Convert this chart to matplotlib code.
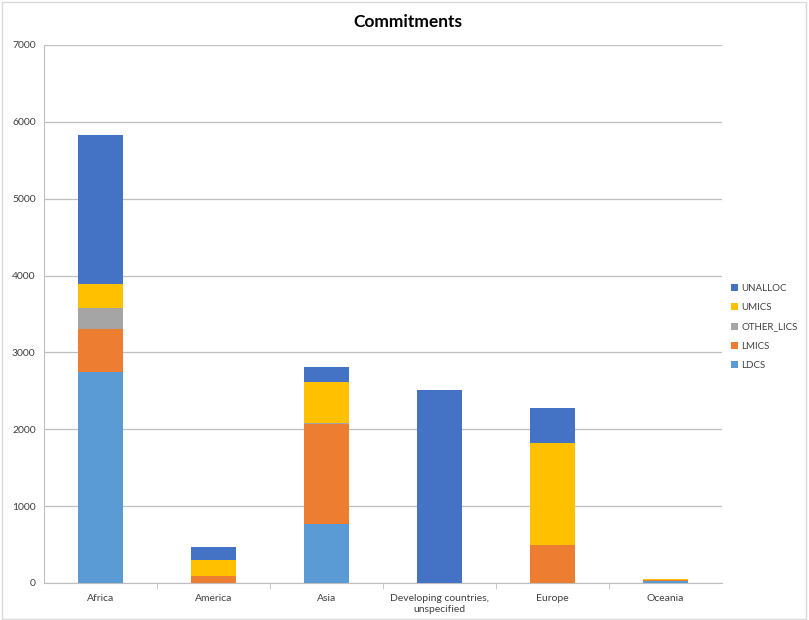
import numpy as np
import matplotlib
matplotlib.use("Agg")
import matplotlib.pyplot as plt

plt.rcParams['font.family'] = ['Lato', 'DejaVu Sans']

# Data
regions = ["Africa", "America", "Asia", "Developing countries,\nunspecified", "Europe", "Oceania"]
ldcs = [2740, 5, 770, 0, 0, 20]
lmics = [560, 90, 1300, 0, 500, 15]
other_lics = [280, 0, 10, 0, 0, 0]
umics = [315, 205, 530, 0, 1320, 20]
unalloc = [1935, 165, 200, 2510, 460, 0]

series = [("LDCS", ldcs, "#5b9bd5"),
          ("LMICS", lmics, "#ed7d31"),
          ("OTHER_LICS", other_lics, "#a5a5a5"),
          ("UMICS", umics, "#ffc000"),
          ("UNALLOC", unalloc, "#4472c4")]

fig = plt.figure(figsize=(8.09, 6.2), dpi=100)
ax = fig.add_axes([44 / 809, 1 - 583 / 620, 678 / 809, 538 / 620])

x = np.arange(len(regions))
bottom = np.zeros(len(regions))
handles = []
for name, vals, color in series:
	vals = np.array(vals, dtype=float)
	h = ax.bar(x, vals, 0.4, bottom=bottom, color=color, label=name, zorder=3)
	handles.append(h)
	bottom += vals

ax.set_xlim(-0.5, len(regions) - 0.5)
ax.set_ylim(0, 7000)
ax.set_yticks(np.arange(0, 7001, 1000))
ax.set_xticks(x)
ax.set_xticklabels(regions, fontsize=7.5, color="#404040")
ax.tick_params(axis="x", length=0, pad=8)
ax.set_xticks(np.arange(0.5, len(regions) - 0.5, 1), minor=True)
ax.tick_params(axis="x", which="minor", length=4, color="#bfbfbf")
ax.tick_params(axis="y", length=0, labelsize=7.5, labelcolor="#404040", pad=6)
ax.grid(axis="y", color="#bfbfbf", linewidth=0.9, zorder=0)

for side in ["top", "right"]:
	ax.spines[side].set_visible(False)
ax.spines["left"].set_color("#bfbfbf")
ax.spines["bottom"].set_color("#bfbfbf")

fig.text(408 / 809, 1 - 22 / 620, "Commitments", ha="center", va="center", fontsize=12.5, fontweight="bold")

leg = fig.legend(handles[::-1], [s[0] for s in series][::-1], loc="center left",
	bbox_to_anchor=(722 / 809, 1 - 327 / 620), frameon=False, fontsize=7,
	handlelength=0.7, handleheight=0.7, labelspacing=1.05, handletextpad=0.4,
	labelcolor="#404040")

# Outer chart border
fig.patches.append(plt.Rectangle((0.002, 0.002), 0.994, 0.994, transform=fig.transFigure,
	fill=False, edgecolor="#d9d9d9", linewidth=1))

fig.savefig("out.png", dpi=100)
